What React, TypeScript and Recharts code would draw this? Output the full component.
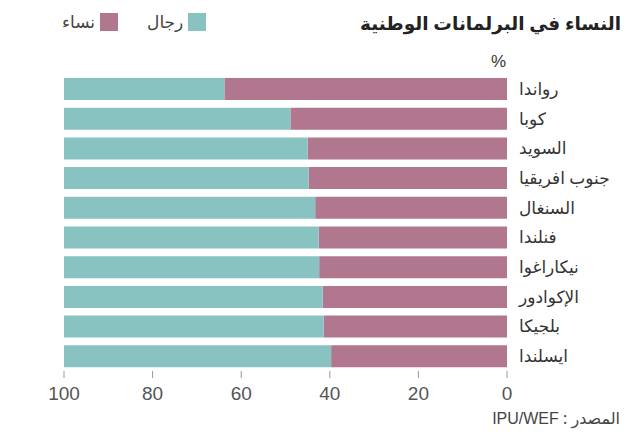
import { Bar, BarChart, XAxis, YAxis } from "recharts";

const countries = [
  "رواندا",
  "كوبا",
  "السويد",
  "جنوب افريقيا",
  "السنغال",
  "فنلندا",
  "نيكاراغوا",
  "الإكوادور",
  "بلجيكا",
  "ايسلندا",
];
const women = [63.8, 48.9, 45.0, 44.8, 43.3, 42.5, 42.4, 41.6, 41.4, 39.7];
const men = [36.2, 51.1, 55.0, 55.2, 56.7, 57.5, 57.6, 58.4, 58.6, 60.3];
const xTicks = [0, 20, 40, 60, 80, 100];

const series = [
  { key: "women", label: "نساء", color: "#b0778f" },
  { key: "men", label: "رجال", color: "#88c3c1" },
];

const data = countries.map((name, i) => ({ name, women: women[i], men: men[i] }));

const arabic = "'Noto Sans', 'DejaVu Sans', sans-serif";
const latin = "'Liberation Sans', Arial, sans-serif";

export default function App() {
  return (
    <div style={{ position: "absolute", left: 0, top: 0, width: 624, height: 435, fontFamily: arabic }}>
      <div
        style={{
          position: "absolute",
          right: 3,
          top: 10,
          direction: "rtl",
          fontSize: 18.5,
          fontWeight: 700,
          color: "#222",
          whiteSpace: "nowrap",
        }}
      >
        النساء في البرلمانات الوطنية
      </div>
      <div
        style={{
          position: "absolute",
          left: 62,
          top: 12,
          display: "flex",
          gap: 29,
          fontSize: 17,
          color: "#444",
        }}
      >
        {series.map((s) => (
          <div key={s.key} style={{ display: "flex", alignItems: "center", gap: 5, height: 19 }}>
            <span style={{ direction: "rtl" }}>{s.label}</span>
            <span style={{ width: 18, height: 18, background: s.color, display: "inline-block" }} />
          </div>
        ))}
      </div>
      <div
        style={{
          position: "absolute",
          left: 491,
          top: 52,
          fontSize: 17,
          color: "#333",
          fontFamily: latin,
        }}
      >
        %
      </div>
      <BarChart
        width={624}
        height={435}
        data={data}
        layout="vertical"
        margin={{ top: 74, right: 0, bottom: 24, left: 64 }}
        barSize={22}
      >
        <XAxis
          type="number"
          domain={[0, 100]}
          ticks={xTicks}
          reversed
          axisLine={false}
          tickLine={{ stroke: "#999" }}
          tickSize={7}
          tickMargin={9}
          height={40}
          tick={{ fontSize: 19, fill: "#555", fontFamily: latin }}
        />
        <YAxis
          type="category"
          dataKey="name"
          orientation="right"
          width={117}
          axisLine={false}
          tickLine={false}
          tickSize={0}
          tickMargin={12}
          tick={{ fontSize: 17, fill: "#333", fontFamily: arabic, textAnchor: "start" }}
        />
        {series.map((s) => (
          <Bar key={s.key} dataKey={s.key} stackId="a" fill={s.color} isAnimationActive={false} />
        ))}
      </BarChart>
      <div
        style={{
          position: "absolute",
          right: 4,
          top: 407,
          direction: "rtl",
          fontSize: 16,
          color: "#444",
          whiteSpace: "nowrap",
        }}
      >
        المصدر : <span style={{ fontFamily: latin }}>IPU/WEF</span>
      </div>
    </div>
  );
}
